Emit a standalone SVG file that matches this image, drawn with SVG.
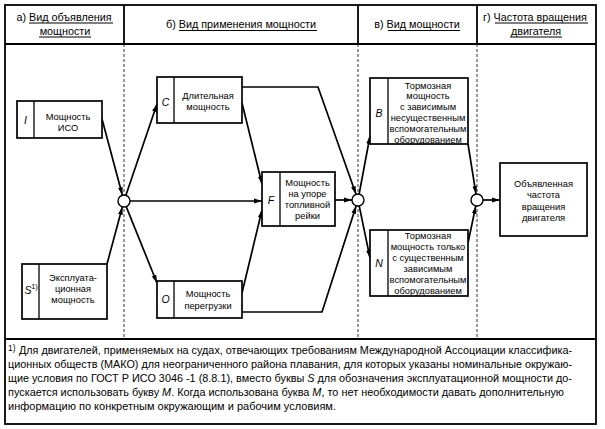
<svg xmlns="http://www.w3.org/2000/svg" width="605" height="429" viewBox="0 0 605 429">
<defs>
<marker id="ar" markerUnits="userSpaceOnUse" markerWidth="9" markerHeight="6" refX="8" refY="3" orient="auto">
<path d="M0,0.6 L8,3 L0,5.4 z" fill="#000"/>
</marker>
<style>
text{font-family:"Liberation Sans",Arial,sans-serif;fill:#000}
.h{font-size:10.8px;text-anchor:middle}
.t{font-size:9.3px;text-anchor:middle}
.l{font-size:10.5px;font-style:italic;text-anchor:middle}
.f{font-size:10.6px}
.box{fill:#fff;stroke:#000;stroke-width:1.7}
.dv{stroke:#000;stroke-width:1.3}
.frame{fill:none;stroke:#000;stroke-width:1.8}
.dash{stroke:#000;stroke-width:0.8;stroke-dasharray:3 2;fill:none}
.ul{stroke:#000;stroke-width:1}
.c{fill:none;stroke:#000;stroke-width:1.7;marker-end:url(#ar)}
.j{fill:#fff;stroke:#000;stroke-width:1.4}
</style>
</defs>
<rect width="605" height="429" fill="#fff"/>
<g id="frame">
<rect class="frame" x="5" y="5" width="591" height="419"/>
<line class="frame" x1="5" y1="44" x2="596" y2="44"/>
<line class="frame" x1="5" y1="339" x2="596" y2="339"/>
<line class="frame" x1="124" y1="5" x2="124" y2="44"/>
<line class="frame" x1="358" y1="5" x2="358" y2="44"/>
<line class="frame" x1="477" y1="5" x2="477" y2="44"/>
<line class="dash" x1="124" y1="44" x2="124" y2="339"/>
<line class="dash" x1="358" y1="44" x2="358" y2="339"/>
<line class="dash" x1="477" y1="44" x2="477" y2="339"/>
</g>
<g id="headers">
<text class="h" x="64" y="20.5">а) Вид объявления</text>
<line class="ul" x1="29" y1="23" x2="113" y2="23"/>
<text class="h" x="65" y="34.5">мощности</text>
<line class="ul" x1="39" y1="37" x2="91" y2="37"/>
<text class="h" x="241" y="28">б) Вид применения мощности</text>
<line class="ul" x1="179" y1="30.5" x2="317" y2="30.5"/>
<text class="h" x="417" y="28">в) Вид мощности</text>
<line class="ul" x1="388" y1="30.5" x2="460" y2="30.5"/>
<text class="h" x="535" y="20.5">г) Частота вращения</text>
<line class="ul" x1="495" y1="23" x2="588" y2="23"/>
<text class="h" x="536" y="34.5">двигателя</text>
<line class="ul" x1="510" y1="37" x2="562" y2="37"/>
</g>
<g id="connectors">
<path class="c" d="M102,119 L122.4,195.2"/>
<path class="c" d="M107,264 L122.4,206.8"/>
<path class="c" d="M125.9,195.3 L157,104"/>
<path class="c" d="M126.2,206.6 L157,283"/>
<path class="c" d="M130,201 L262,201"/>
<path class="c" d="M242,103 L262,184"/>
<path class="c" d="M242,293 L262,210"/>
<path class="c" d="M242,87 L318,87 L356,194.3"/>
<path class="c" d="M242,312 L322,312 L356.2,205.7"/>
<path class="c" d="M335,200 L352,200"/>
<path class="c" d="M359.1,194.1 L370,136"/>
<path class="c" d="M359.2,205.9 L370,258"/>
<path class="c" d="M468,144 L476,194.1"/>
<path class="c" d="M468,243 L475.8,205.9"/>
<path class="c" d="M483,200 L500,200"/>
</g>
<g id="j1"><circle class="j" cx="124" cy="201" r="6"/></g>
<g id="j2"><circle class="j" cx="358" cy="200" r="6"/></g>
<g id="j3"><circle class="j" cx="477" cy="200" r="6"/></g>
<g id="nodeI">
<rect class="box" x="17" y="101" width="85" height="37"/>
<line class="dv" x1="34" y1="101" x2="34" y2="138"/>
<text class="l" x="25.5" y="123.5">I</text>
<text class="t" x="68" y="119.5">Мощность</text>
<text class="t" x="68" y="130.5">ИСО</text>
</g>
<g id="nodeS">
<rect class="box" x="22" y="264" width="85" height="55"/>
<line class="dv" x1="39" y1="264" x2="39" y2="319"/>
<text class="l" x="28" y="294">S</text>
<text x="34.5" y="289" style="font-size:7.5px;text-anchor:middle">1)</text>
<text class="t" x="73" y="280.5">Эксплуата-</text>
<text class="t" x="73" y="291.5">ционная</text>
<text class="t" x="73" y="302.5">мощность</text>
</g>
<g id="nodeC">
<rect class="box" x="157" y="77" width="85" height="46"/>
<line class="dv" x1="174" y1="77" x2="174" y2="123"/>
<text class="l" x="165.5" y="105.5">C</text>
<text class="t" x="208" y="98.5">Длительная</text>
<text class="t" x="208" y="109.5">мощность</text>
</g>
<g id="nodeF">
<rect class="box" x="262" y="172" width="73" height="54"/>
<line class="dv" x1="280" y1="172" x2="280" y2="226"/>
<text class="l" x="271" y="203.5">F</text>
<text class="t" x="307.5" y="186">Мощность</text>
<text class="t" x="307.5" y="197">на упоре</text>
<text class="t" x="307.5" y="208">топливной</text>
<text class="t" x="307.5" y="219">рейки</text>
</g>
<g id="nodeO">
<rect class="box" x="157" y="281" width="85" height="37"/>
<line class="dv" x1="174" y1="281" x2="174" y2="318"/>
<text class="l" x="165.5" y="303">O</text>
<text class="t" x="208" y="297">Мощность</text>
<text class="t" x="208" y="308.5">перегрузки</text>
</g>
<g id="nodeB">
<rect class="box" x="370" y="78" width="98" height="66"/>
<line class="dv" x1="388" y1="78" x2="388" y2="144"/>
<text class="l" x="379" y="116.5">B</text>
<text class="t" x="428" y="88.5">Тормозная</text>
<text class="t" x="428" y="99.4">мощность</text>
<text class="t" x="428" y="110.3">с зависимым</text>
<text class="t" x="428" y="121.2">несущественным</text>
<text class="t" x="428" y="132.1">вспомогательным</text>
<text class="t" x="428" y="143">оборудованием</text>
</g>
<g id="nodeN">
<rect class="box" x="370" y="230" width="98" height="66"/>
<line class="dv" x1="388" y1="230" x2="388" y2="296"/>
<text class="l" x="379" y="266.5">N</text>
<text class="t" x="428" y="238.5">Тормозная</text>
<text class="t" x="428" y="249.6">мощность только</text>
<text class="t" x="428" y="260.7">с существенным</text>
<text class="t" x="428" y="271.8">зависимым</text>
<text class="t" x="428" y="282.9">вспомогательным</text>
<text class="t" x="428" y="294">оборудованием</text>
</g>
<g id="nodeFinal">
<rect class="box" x="500" y="163" width="87" height="73"/>
<text class="t" x="543.5" y="186.5">Объявленная</text>
<text class="t" x="543.5" y="198">частота</text>
<text class="t" x="543.5" y="209.5">вращения</text>
<text class="t" x="543.5" y="221">двигателя</text>
</g>
<g id="footnote">
<text x="8" y="351" style="font-size:8.5px">1)</text>
<text class="f" x="19" y="354" textLength="553" lengthAdjust="spacingAndGlyphs">Для двигателей, применяемых на судах, отвечающих требованиям Международной Ассоциации классифика-</text>
<text class="f" x="8" y="368" textLength="564" lengthAdjust="spacingAndGlyphs">ционных обществ (МАКО) для неограниченного района плавания, для которых указаны номинальные окружаю-</text>
<text class="f" x="8" y="382" textLength="564" lengthAdjust="spacingAndGlyphs">щие условия по ГОСТ Р ИСО 3046 -1 (8.8.1), вместо буквы <tspan font-style="italic">S</tspan> для обозначения эксплуатационной мощности до-</text>
<text class="f" x="8" y="396" textLength="556" lengthAdjust="spacingAndGlyphs">пускается использовать букву <tspan font-style="italic">M</tspan>. Когда использована буква <tspan font-style="italic">M</tspan>, то нет необходимости давать дополнительную</text>
<text class="f" x="8" y="410" textLength="328" lengthAdjust="spacingAndGlyphs">информацию по конкретным окружающим и рабочим условиям.</text>
</g>
</svg>
